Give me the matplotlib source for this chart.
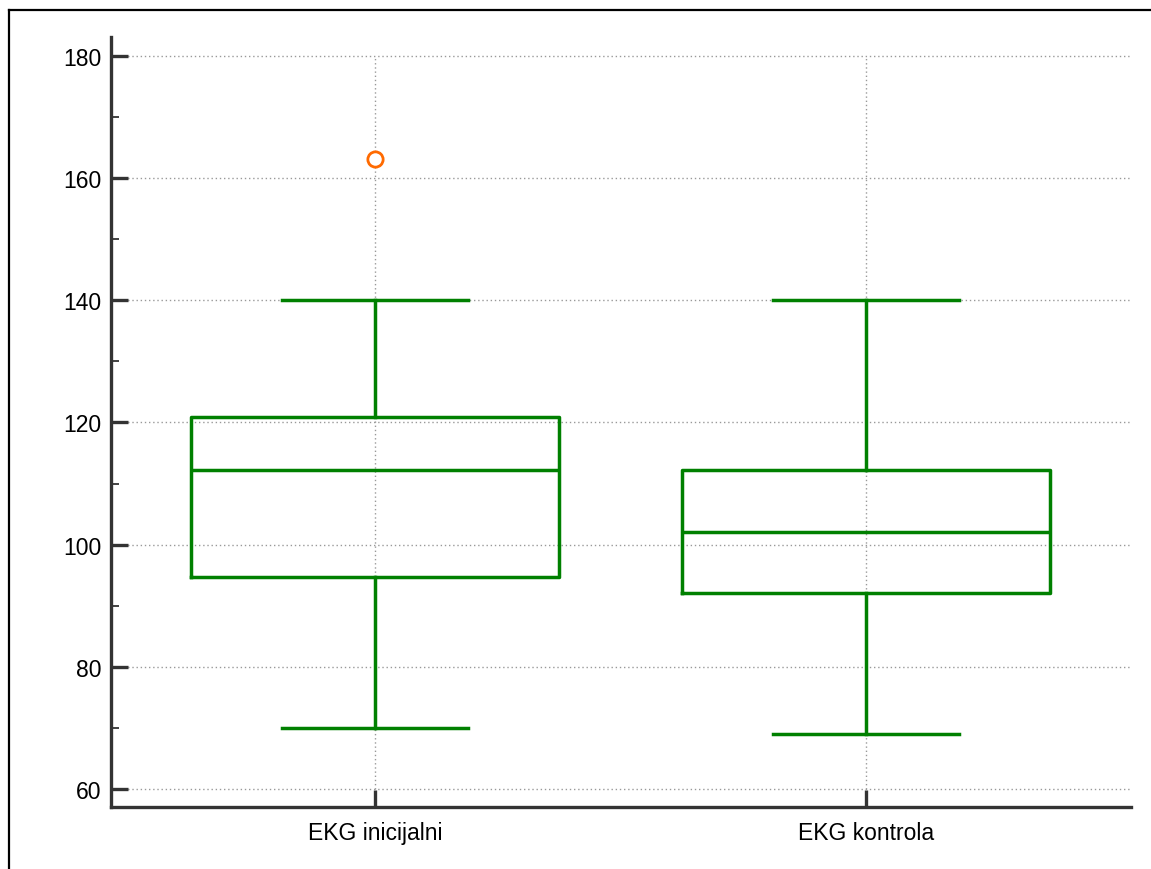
import matplotlib
matplotlib.use("Agg")
import matplotlib.pyplot as plt
from matplotlib.lines import Line2D
from matplotlib.ticker import MultipleLocator

# box statistics
labels = ["EKG inicijalni", "EKG kontrola"]
whislo = [70, 69]
q1 = [94.7, 92.1]
med = [112.2, 102.1]
q3 = [120.9, 112.2]
whishi = [140, 140]
fliers = [[163.2], []]

green = "#008000"
spine_col = "#333333"
grid_col = "#999999"

plt.rcParams["font.family"] = ["Liberation Sans", "DejaVu Sans"]

fig = plt.figure(figsize=(11.51, 8.70), dpi=100)
ax = fig.add_axes([111 / 1151, 1 - 808 / 870, (1131 - 111) / 1151, (808 - 38) / 870])

stats = []
for i in range(len(labels)):
    stats.append(dict(label=labels[i], whislo=whislo[i], q1=q1[i], med=med[i],
                      q3=q3[i], whishi=whishi[i], fliers=fliers[i]))

positions = [1, 2]
lw = 2.5
ax.bxp(stats, positions=positions, widths=0.75, showfliers=True,
       boxprops=dict(color=green, linewidth=lw),
       whiskerprops=dict(color=green, linewidth=lw),
       capprops=dict(color=green, linewidth=lw),
       medianprops=dict(color=green, linewidth=lw),
       flierprops=dict(marker="o", markersize=11, markerfacecolor="white",
                       markeredgecolor="#ff6a00", markeredgewidth=2.0),
       capwidths=0.38, zorder=3)

ax.set_xlim(0.462, 2.54)
ax.set_ylim(57.05, 183.1)
ax.yaxis.set_major_locator(MultipleLocator(20))
ax.yaxis.set_minor_locator(MultipleLocator(10))

# dotted grid: horizontal across the axes, vertical only between 60 and 180
ax.grid(True, axis="y", which="major", linestyle=(0, (1, 2)), color=grid_col, linewidth=1.0, zorder=0)
ax.vlines(positions, 60, 180, colors=grid_col, linestyles=[(0, (1, 2))], linewidth=1.0, zorder=0)
ax.set_axisbelow(True)

for s in ["top", "right"]:
    ax.spines[s].set_visible(False)
for s in ["left", "bottom"]:
    ax.spines[s].set_color(spine_col)
    ax.spines[s].set_linewidth(2.4)

ax.tick_params(axis="both", which="major", direction="in", length=12, width=2.4,
               color=spine_col, labelsize=16.5)
ax.tick_params(axis="y", which="minor", direction="in", length=6, width=1.3, color=spine_col)
ax.tick_params(axis="y", which="major", pad=7)
ax.tick_params(axis="x", which="major", pad=10)

# partial frame around the figure
fig.add_artist(Line2D([8.5 / 1151, 1.0], [1 - 10.5 / 870, 1 - 10.5 / 870],
                      transform=fig.transFigure, color="black", linewidth=1.6))
fig.add_artist(Line2D([8.5 / 1151, 8.5 / 1151], [0, 1 - 10.5 / 870],
                      transform=fig.transFigure, color="black", linewidth=1.6))

fig.savefig("out.png", dpi=100)
